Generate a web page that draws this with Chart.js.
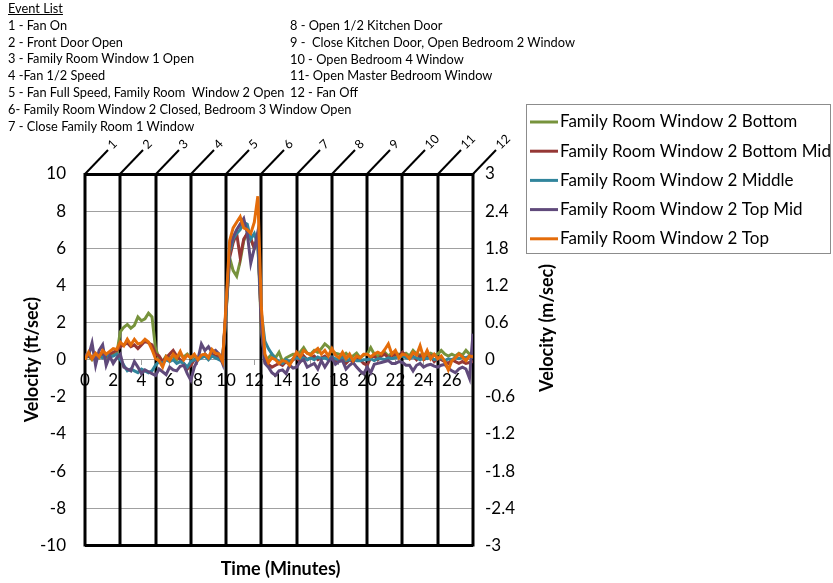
<!DOCTYPE html>
<html>
<head>
<meta charset="utf-8">
<title>Family Room Window 2 - Velocity</title>
<script src="https://cdn.jsdelivr.net/npm/chart.js@4.4.1/dist/chart.umd.min.js"></script>
<style>
  body { margin: 0; background: #fff; }
  #wrap { position: relative; width: 833px; height: 583px; font-family: Lato, sans-serif; color: #000; }
  #myChart { position: absolute; left: 0; top: 0; }
  .events { position: absolute; font-size: 12.8px; line-height: 16.8px; white-space: pre; }
</style>
</head>
<body>
<div id="wrap">
  <canvas id="myChart" width="833" height="583"></canvas>
  <div class="events" id="events-a" style="left:8px; top:0px;"></div>
  <div class="events" id="events-b" style="left:290px; top:17px;"></div>
</div>

<script>
/* global Chart */

{
  'use strict';

  /* Data */

  // sample times, minutes
  const times = [
    0, 0.25, 0.5, 0.75, 1, 1.25, 1.5, 1.75, 2, 2.25, 2.5, 2.75,
    3, 3.25, 3.5, 3.75, 4, 4.25, 4.5, 4.75, 5, 5.25, 5.5, 5.75,
    6, 6.25, 6.5, 6.75, 7, 7.25, 7.5, 7.75, 8, 8.25, 8.5, 8.75,
    9, 9.25, 9.5, 9.75, 10, 10.25, 10.5, 10.75, 11, 11.25, 11.5, 11.75,
    12, 12.25, 12.5, 12.75, 13, 13.25, 13.5, 13.75, 14, 14.25, 14.5, 14.75,
    15, 15.25, 15.5, 15.75, 16, 16.25, 16.5, 16.75, 17, 17.25, 17.5, 17.75,
    18, 18.25, 18.5, 18.75, 19, 19.25, 19.5, 19.75, 20, 20.25, 20.5, 20.75,
    21, 21.25, 21.5, 21.75, 22, 22.25, 22.5, 22.75, 23, 23.25, 23.5, 23.75,
    24, 24.25, 24.5, 24.75, 25, 25.25, 25.5, 25.75, 26, 26.25, 26.5, 26.75,
    27, 27.25, 27.5
  ];

  // ft/sec, one row per minute
  const bottom = [
    0.1, 0.2, 0.0, 0.2,   0.1, 0.3, 0.1, 0.2,   0.3, 0.3, 1.5, 1.75,
    1.9, 1.7, 1.85, 2.3,  2.1, 2.2, 2.5, 2.3,   0.6, 0.1, -0.1, 0.2,
    0.1, 0.2, 0.0, 0.3,   0.15, 0.3, 0.1, 0.2,  0.1, 0.2, 0.3, 0.1,
    0.2, 0.1, 0.25, 0.0,  2.5, 5.5, 4.8, 4.5,   5.3, 6.4, 6.8, 6.5,
    6.0, 6.3, 1.6, 0.0,   0.1, 0.3, 0.1, 0.4,   -0.1, 0.1, 0.2, 0.3,
    0.3, 0.4, 0.65, 0.35, 0.3, 0.5, 0.4, 0.6,   0.85, 0.7, 0.45, 0.35,
    0.3, 0.2, 0.35, 0.15, 0.2, 0.35, 0.1, 0.25, 0.3, 0.65, 0.3, 0.2,
    0.3, 0.4, 0.2, 0.35,  0.2, 0.3, 0.25, 0.35, 0.2, 0.5, 0.3, 0.25,
    0.3, 0.2, 0.35, 0.25, 0.3, 0.5, 0.3, 0.2,   0.3, 0.2, 0.35, 0.25,
    0.5, 0.3, 0.2
  ];

  const bottomMid = [
    0.1, 0.2, 0.1, 0.3,   0.2, 0.3, 0.2, 0.3,   0.4, 0.5, 0.7, 0.8,
    0.9, 0.7, 0.8, 0.6,   0.8, 1.0, 0.9, 0.8,   0.3, 0.2, -0.1, 0.1,
    0.3, 0.5, 0.2, 0.0,   -0.2, -0.5, -0.3, 0.0, 0.1, 0.2, 0.3, 0.1,
    0.3, 0.2, 0.1, 0.0,   2.7, 5.5, 6.3, 6.8,   5.5, 6.5, 6.8, 6.5,
    6.0, 6.5, 2.0, -0.1,  -0.25, -0.4, -0.3, -0.2, -0.3, -0.1, -0.2, 0.0,
    0.1, -0.1, 0.2, 0.0,  0.1, 0.2, 0.0, 0.1,   0.2, 0.0, 0.1, -0.1,
    0.0, 0.1, -0.2, 0.0,  -0.1, 0.1, 0.0, -0.2, -0.3, 0.1, 0.2, 0.0,
    0.2, 0.3, 0.1, 0.2,   0.3, 0.2, 0.4, 0.2,   0.1, 0.2, 0.0, 0.2,
    0.0, 0.1, 0.2, -0.1,  0.1, 0.0, -0.1, -0.2, 0.0, -0.1, -0.2, -0.1,
    -0.2, -0.15, -0.1
  ];

  const middle = [
    0.1, 0.3, 0.1, 0.2,   0.2, 0.1, 0.3, 0.15,  0.2, 0.3, 0.0, -0.3,
    -0.6, -0.5, -0.6, -0.7, -0.5, -0.6, -0.7, -0.6, -0.3, -0.1, -0.2, 0.0,
    -0.1, 0.0, -0.2, -0.1, -0.2, -0.4, -0.1, 0.0, 0.0, 0.1, 0.2, 0.0,
    0.2, 0.1, 0.0, -0.1,  2.6, 5.8, 6.5, 6.8,   7.0, 7.4, 7.3, 6.5,
    6.8, 6.2, 2.5, 1.0,   0.6, 0.3, 0.05, -0.1, -0.2, 0.0, -0.1, 0.05,
    0.1, 0.05, 0.1, 0.0,  0.1, 0.0, 0.15, 0.05, 0.1, 0.0, 0.15, 0.05,
    0.0, 0.1, -0.05, 0.0, 0.05, -0.05, -0.05, 0.0, 0.0, 0.05, -0.05, 0.05,
    0.05, 0.0, 0.1, 0.05, 0.1, 0.15, 0.2, 0.1,  0.05, 0.15, 0.1, 0.0,
    0.1, 0.05, 0.15, 0.0, 0.05, 0.1, -0.05, 0.05, 0.0, 0.1, 0.05, 0.15,
    0.1, 0.2, 0.1
  ];

  const topMid = [
    0.3, 0.2, 0.9, -0.3,  0.5, 0.8, -0.3, 0.2,  -0.2, 0.1, 0.3, -0.4,
    -0.5, -0.6, -0.1, -0.4, -0.75, -0.55, -0.65, -0.75, -0.85, -0.5, -0.65, -0.8,
    -0.4, -0.55, -0.6, -0.35, -0.3, -0.75, -1.1, -0.4, 0.0, 0.85, 0.5, 0.7,
    0.4, 0.5, 0.3, -0.2,  2.8, 6.0, 6.6, 7.0,   7.3, 7.6, 6.8, 5.2,
    6.0, 6.9, 1.8, -0.2,  -0.4, -0.7, -0.85, -0.6, -0.55, -0.75, -0.3, -0.45,
    -0.4, -0.1, 0.0, -0.4, -0.3, -0.2, -0.5, -0.05, -0.4, -0.1, 0.1, -0.25,
    -0.1, -0.05, -0.5, -0.3, -0.15, -0.4, -0.6, -0.75, -0.4, -0.7, -0.25, -0.2,
    -0.15, -0.1, -0.05, -0.2, -0.2, -0.1, -0.15, -0.3, -0.3, -0.6, -0.3, -0.2,
    -0.4, -0.3, -0.25, -0.35, -0.4, -0.3, -0.25, -0.45, -0.6, -0.7, -0.5, -0.4,
    -0.5, -1.0, 1.4
  ];

  const topSeries = [
    0.0, 0.4, 0.05, 0.35, 0.15, 0.5, 0.3, 0.45, 0.6, 0.55, 0.95, 0.75,
    1.1, 0.8, 1.1, 0.85,  0.9, 1.1, 0.95, 0.55, 0.05, -0.05, -0.4, 0.15,
    -0.05, 0.3, 0.1, 0.45, 0.0, 0.25, 0.1, 0.3, 0.0, 0.25, 0.3, 0.1,
    0.55, 0.35, 0.3, -0.1, 3.0, 6.4, 7.1, 7.4,  7.7, 7.1, 7.0, 6.8,
    7.4, 8.8, 2.8, 0.3,   -0.15, 0.1, 0.0, -0.2, -0.05, -0.1, -0.3, 0.05,
    0.4, 0.15, 0.5, 0.35, 0.25, 0.45, 0.6, 0.3, 0.5, 0.2, 0.6, 0.25,
    0.1, 0.4, 0.05, 0.3,  -0.05, 0.2, 0.1, 0.3, 0.3, 0.15, 0.3, 0.4,
    0.3, 0.55, 0.85, 0.3, 0.5, 0.1, 0.3, 0.25,  0.05, 0.4, 0.25, 0.75,
    0.1, 0.5, 0.05, 0.3,  0.05, 0.2, -0.1, -0.55, -0.05, 0.1, 0.3, 0.15,
    -0.05, 0.2, 0.15
  ];

  const seriesNames = [
    'Family Room Window 2 Bottom',
    'Family Room Window 2 Bottom Mid',
    'Family Room Window 2 Middle',
    'Family Room Window 2 Top Mid',
    'Family Room Window 2 Top'
  ];
  const seriesValues = [bottom, bottomMid, middle, topMid, topSeries];
  const seriesColors = ['#77933C', '#953735', '#31859C', '#604A7B', '#E46C0A'];

  // event markers
  const eventTimes = [0, 2.5, 5, 7.5, 10, 12.5, 15, 17.5, 20, 22.5, 25, 27.5];
  const eventLabels = ['1', '2', '3', '4', '5', '6', '7', '8', '9', '10', '11', '12'];
  const eventListA = [
    '1 - Fan On',
    '2 - Front Door Open',
    '3 - Family Room Window 1 Open',
    '4 -Fan 1/2 Speed',
    '5 - Fan Full Speed, Family Room  Window 2 Open',
    '6- Family Room Window 2 Closed, Bedroom 3 Window Open',
    '7 - Close Family Room 1 Window'
  ];
  const eventListB = [
    '8 - Open 1/2 Kitchen Door',
    '9 -  Close Kitchen Door, Open Bedroom 2 Window',
    '10 - Open Bedroom 4 Window',
    '11- Open Master Bedroom Window',
    '12 - Fan Off'
  ];

  const timeTicks = [0, 2, 4, 6, 8, 10, 12, 14, 16, 18, 20, 22, 24, 26];


  /* Event list */

  const listA = document.getElementById('events-a');
  listA.innerHTML = '<u>Event List</u>\n' + eventListA.join('\n');
  document.getElementById('events-b').textContent = eventListB.join('\n');


  /* Plugins */

  // vertical event lines with slanted numbered tags
  const eventLines = {
    id: 'eventLines',
    beforeDatasetsDraw(chart) {
      const {ctx, chartArea} = chart;
      const x = chart.scales.x;
      ctx.save();
      ctx.strokeStyle = '#000';
      ctx.fillStyle = '#000';
      ctx.font = '12.5px Lato';
      ctx.textBaseline = 'middle';
      eventTimes.forEach(function(t, i) {
        const px = Math.round(x.getPixelForValue(t));
        ctx.lineWidth = 3;
        ctx.beginPath();
        ctx.moveTo(px, chartArea.bottom + 1);
        ctx.lineTo(px, chartArea.top - 1);
        ctx.stroke();
        ctx.lineWidth = 2;
        ctx.beginPath();
        ctx.moveTo(px, chartArea.top);
        ctx.lineTo(px + 23, chartArea.top - 24);
        ctx.stroke();
        ctx.save();
        ctx.translate(px + 25, chartArea.top - 27);
        ctx.rotate(-Math.PI / 4);
        ctx.fillText(eventLabels[i], 0, 0);
        ctx.restore();
      });
      ctx.restore();
    }
  };

  // boxed legend + right axis title
  const boxLegend = {
    id: 'boxLegend',
    afterDraw(chart) {
      const {ctx} = chart;
      ctx.save();
      ctx.strokeStyle = '#8c8c8c';
      ctx.lineWidth = 1;
      ctx.strokeRect(526.5, 104.5, 304, 149);
      ctx.font = '17px Lato';
      ctx.textBaseline = 'middle';
      chart.data.datasets.forEach(function(ds, i) {
        const y = 122 + i * 29.2;
        ctx.strokeStyle = ds.borderColor;
        ctx.lineWidth = 3;
        ctx.beginPath();
        ctx.moveTo(530, y);
        ctx.lineTo(558, y);
        ctx.stroke();
        ctx.fillStyle = '#000';
        ctx.fillText(ds.label, 560, y);
      });

      ctx.translate(547, 328);
      ctx.rotate(-Math.PI / 2);
      ctx.font = 'bold 18px Lato';
      ctx.textAlign = 'center';
      ctx.fillText('Velocity (m/sec)', 0, 0);
      ctx.restore();
    }
  };


  /* Chart */

  const ctx = document.getElementById('myChart').getContext('2d');

  Chart.defaults.font.family = 'Lato';
  Chart.defaults.color = '#000';

  const chart = new Chart(ctx, {
    type: 'line',
    data: {
      datasets: seriesValues.map(function(values, i) {
        return {
          label: seriesNames[i],
          data: values.map(function(v, j) { return {x: times[j], y: v}; }),
          borderColor: seriesColors[i],
          backgroundColor: seriesColors[i],
          borderWidth: 3,
          pointRadius: 0,
          tension: 0,
          fill: false,
          xAxisID: 'x',
          yAxisID: 'y',
          order: seriesValues.length - 1 - i,
        };
      })
    },
    options: {
      responsive: false,
      animation: false,
      events: [],
      layout: {
        padding: {top: 174, right: 272, left: 0, bottom: 0}
      },
      plugins: {
        legend: {display: false},
        tooltip: {enabled: false},
        title: {
          display: true,
          position: 'bottom',
          text: 'Time (Minutes)',
          color: '#000',
          font: {size: 18, weight: 'bold'},
          padding: {top: 13, bottom: 3}
        }
      },
      scales: {
        x: {
          type: 'linear',
          min: 0,
          max: 27.5,
          position: {y: 0},
          afterBuildTicks: function(scale) {
            scale.ticks = timeTicks.map(function(v) { return {value: v}; });
          },
          ticks: {font: {size: 17}, color: '#000', padding: 6, maxRotation: 0, autoSkip: false},
          grid: {drawOnChartArea: false, drawTicks: true, tickLength: 5, color: '#a0a0a0'},
          border: {color: '#a0a0a0'}
        },
        y: {
          position: 'left',
          min: -10,
          max: 10,
          afterFit: function(scale) { scale.width = 85; },
          ticks: {stepSize: 2, padding: 19, font: {size: 17}, color: '#000'},
          grid: {
            drawTicks: false,
            color: function(c) { return Math.abs(c.tick.value) === 10 ? '#000' : '#a0a0a0'; },
            lineWidth: function(c) { return Math.abs(c.tick.value) === 10 ? 3 : 1; }
          },
          border: {display: false},
          title: {
            display: true,
            text: 'Velocity (ft/sec)',
            color: '#000',
            font: {size: 18, weight: 'bold'},
            padding: {top: 21, bottom: 0}
          }
        },
        y1: {
          position: 'right',
          min: -3,
          max: 3,
          afterFit: function(scale) { scale.width = 88; },
          ticks: {
            stepSize: 0.6,
            padding: 12,
            font: {size: 17},
            color: '#000',
            callback: function(v) { return String(Math.round(v * 10) / 10); }
          },
          grid: {drawOnChartArea: false, drawTicks: false},
          border: {display: false}
        }
      }
    },
    plugins: [eventLines, boxLegend]
  });
  console.log(chart);

}
</script>
</body>
</html>
